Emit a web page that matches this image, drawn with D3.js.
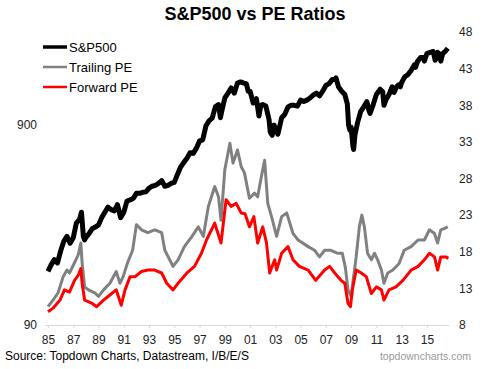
<!DOCTYPE html>
<html>
<head>
<meta charset="utf-8">
<script src="https://cdn.jsdelivr.net/npm/d3@7"></script>
<style>
  html, body { margin: 0; padding: 0; background: #fff; }
  svg { display: block; font-family: "Liberation Sans", Arial, sans-serif; }
</style>
</head>
<body>
<svg id="chart" width="485" height="369"></svg>
<script>
// ---- Data (decimal years) ----
const spDates = [1985.0,1985.25,1985.5,1985.75,1986.0,1986.25,1986.5,1986.75,1987.0,1987.25,1987.5,1987.65,1987.8,1987.9,1988.0,1988.25,1988.5,1988.75,1989.0,1989.25,1989.5,1989.75,1990.0,1990.25,1990.5,1990.75,1991.0,1991.25,1991.5,1991.75,1992.0,1992.25,1992.5,1992.75,1993.0,1993.25,1993.5,1993.75,1994.0,1994.25,1994.5,1994.75,1995.0,1995.25,1995.5,1995.75,1996.0,1996.25,1996.5,1996.75,1997.0,1997.25,1997.5,1997.75,1998.0,1998.25,1998.5,1998.65,1998.75,1999.0,1999.25,1999.5,1999.75,2000.0,2000.25,2000.5,2000.7,2000.85,2001.0,2001.25,2001.5,2001.7,2001.85,2002.0,2002.25,2002.5,2002.6,2002.75,2002.9,2003.0,2003.2,2003.5,2003.75,2004.0,2004.25,2004.5,2004.75,2005.0,2005.25,2005.5,2005.75,2006.0,2006.25,2006.5,2006.75,2007.0,2007.25,2007.5,2007.75,2007.8,2008.0,2008.25,2008.5,2008.7,2008.8,2008.9,2009.0,2009.15,2009.2,2009.3,2009.5,2009.75,2010.0,2010.25,2010.4,2010.5,2010.75,2011.0,2011.3,2011.5,2011.6,2011.75,2012.0,2012.25,2012.4,2012.6,2012.75,2012.9,2013.0,2013.25,2013.5,2013.75,2014.0,2014.1,2014.25,2014.5,2014.75,2014.8,2015.0,2015.25,2015.5,2015.65,2015.75,2015.85,2016.0,2016.1,2016.25,2016.5,2016.65];
const spValues = [167,180,191,184,211,236,250,231,246,292,304,330,250,240,247,258,273,278,285,310,330,350,340,335,360,310,330,375,380,387,410,410,415,417,435,445,450,460,475,445,450,460,465,510,555,585,615,655,650,690,750,760,890,945,975,1110,1140,980,1050,1230,1300,1380,1300,1460,1480,1460,1450,1330,1330,1160,1220,1000,1130,1140,1120,960,830,800,900,860,810,980,1020,1110,1130,1130,1120,1200,1180,1200,1230,1270,1300,1260,1330,1420,1450,1520,1520,1550,1400,1330,1280,1150,900,850,880,700,680,800,920,1050,1110,1180,1070,1030,1140,1280,1360,1320,1130,1200,1280,1400,1310,1400,1430,1400,1470,1570,1610,1690,1800,1750,1870,1960,1960,1880,2050,2080,2100,1900,1950,2080,2040,1880,2050,2120,2180];

const trailingDates = [1985.0,1985.4,1985.8,1986.2,1986.5,1986.7,1987.1,1987.4,1987.6,1987.7,1987.9,1988.2,1988.7,1989.0,1989.4,1989.9,1990.4,1990.7,1990.95,1991.3,1991.7,1992.0,1992.4,1992.9,1993.45,1994.0,1994.25,1994.9,1995.3,1995.8,1996.4,1996.9,1997.3,1997.7,1998.2,1998.5,1998.7,1999.0,1999.4,1999.65,2000.0,2000.3,2000.55,2000.95,2001.35,2001.6,2001.9,2002.15,2002.4,2002.7,2003.1,2003.5,2003.9,2004.4,2004.8,2005.6,2006.1,2006.5,2006.9,2007.4,2007.9,2008.3,2008.55,2008.75,2009.0,2009.4,2009.65,2009.85,2010.05,2010.3,2010.6,2010.85,2011.1,2011.4,2011.6,2011.9,2012.3,2012.8,2013.2,2013.75,2014.3,2014.8,2015.2,2015.6,2015.85,2016.1,2016.4,2016.65];
const trailingValues = [10.5,11.4,12.4,14.6,15.5,15.1,16.5,17.6,19.2,16.5,13.2,12.8,12.4,11.9,12.8,13.7,15.3,13.7,14.6,16.5,18.2,21.7,21.0,20.6,21.0,20.6,18.2,16.0,16.9,18.7,20.1,21.4,20.1,24.2,26.9,25.5,22.3,29.2,32.8,30.1,31.9,29.6,28.8,25.3,26.0,25.5,28.3,30.5,24.6,22.8,20.1,22.8,23.3,20.5,19.6,18.7,18.2,17.3,18.2,18.2,17.8,17.8,15.8,12.8,11.9,17.3,21.4,23.0,21.4,17.8,16.9,17.8,16.9,15.5,13.7,15.1,15.5,16.4,18.2,18.7,19.6,19.6,21.0,20.5,19.2,21.0,21.2,21.4];

const forwardDates = [1985.0,1985.4,1985.95,1986.3,1986.7,1987.1,1987.4,1987.6,1987.7,1987.9,1988.45,1988.85,1989.4,1989.9,1990.4,1990.8,1991.1,1991.5,1991.9,1992.4,1992.9,1993.45,1994.0,1994.4,1994.9,1995.3,1996.0,1996.6,1997.15,1997.55,1998.2,1998.7,1999.1,1999.5,1999.9,2000.3,2000.6,2000.95,2001.3,2001.6,2002.0,2002.3,2002.55,2002.95,2003.1,2003.5,2004.0,2004.4,2004.9,2005.6,2006.2,2006.9,2007.3,2007.7,2008.2,2008.5,2008.75,2008.95,2009.1,2009.4,2009.8,2010.2,2010.6,2011.0,2011.4,2011.6,2012.0,2012.55,2013.1,2013.75,2014.3,2014.8,2015.2,2015.6,2015.85,2016.1,2016.5,2016.7];
const forwardValues = [9.8,10.3,11.4,12.8,12.5,14.1,14.8,15.7,13.7,11.4,11.0,10.5,11.4,12.1,12.8,10.7,12.8,14.6,14.6,15.3,15.5,15.5,15.1,13.7,12.8,13.7,15.1,16.0,17.8,19.6,21.9,19.2,25.1,24.2,24.6,23.3,23.2,21.4,22.8,19.2,21.4,19.2,15.1,16.9,15.5,17.8,18.7,16.9,16.0,15.5,14.1,15.5,16.0,15.1,14.1,13.7,11.0,10.5,12.8,15.5,15.1,14.6,12.3,13.2,12.8,11.4,12.8,13.2,14.1,15.5,16.0,16.9,17.8,17.3,15.5,17.3,17.3,17.1];

const xTickYears = [1985,1987,1989,1991,1993,1995,1997,1999,2001,2003,2005,2007,2009,2011,2013,2015];
const leftTicks = [90, 900];
const rightTicks = [8,13,18,23,28,33,38,43,48];
const seriesNames = ["S&P500", "Trailing PE", "Forward PE"];
const seriesColors = ["#000000", "#808080", "#ff0000"];

// ---- Layout ----
const svg = d3.select("#chart");
const x = d3.scaleLinear().domain([1985, 2016.75]).range([48, 449]);
const yL = d3.scaleLog().domain([90, 2630]).range([325, 32]);
const yR = d3.scaleLinear().domain([8, 48]).range([325, 32]);

// Title
svg.append("text").attr("x", 255).attr("y", 20).attr("text-anchor", "middle")
  .attr("font-size", 18).attr("font-weight", "bold").attr("fill", "#000")
  .text("S&P500 vs PE Ratios");

// X axis
const xAxis = d3.axisBottom(x).tickValues(xTickYears)
  .tickFormat(d => String(d % 100).padStart(2, "0"))
  .tickSize(3).tickSizeOuter(0).tickPadding(7);
const gx = svg.append("g").attr("transform", "translate(0,325)").call(xAxis);
gx.select(".domain").attr("stroke", "#d9d9d9").attr("d", "M45,0.5H449");
gx.selectAll(".tick line").attr("stroke", "#d9d9d9");
gx.selectAll("text").attr("font-size", 12).attr("fill", "#222").attr("font-family", "Liberation Sans, Arial, sans-serif");

// Left axis (log)
const yAxisL = d3.axisLeft(yL).tickValues(leftTicks).tickFormat(d3.format("d")).tickSize(0).tickPadding(8);
const gl = svg.append("g").attr("transform", "translate(45,0)").call(yAxisL);
gl.select(".domain").remove();
gl.selectAll("text").attr("font-size", 12).attr("fill", "#222").attr("font-family", "Liberation Sans, Arial, sans-serif");

// Right axis
const yAxisR = d3.axisRight(yR).tickValues(rightTicks).tickSize(0).tickPadding(8);
const gr = svg.append("g").attr("transform", "translate(451,0)").call(yAxisR);
gr.select(".domain").remove();
gr.selectAll("text").attr("font-size", 12).attr("fill", "#222").attr("font-family", "Liberation Sans, Arial, sans-serif");

// Lines
const lineR = d3.line().x(d => x(d[0])).y(d => yR(d[1]));
const lineL = d3.line().x(d => x(d[0])).y(d => yL(d[1]));
const trailing = trailingDates.map((d, i) => [d, trailingValues[i]]);
const forward = forwardDates.map((d, i) => [d, forwardValues[i]]);
const sp = spDates.map((d, i) => [d, spValues[i]]);

svg.append("path").datum(trailing).attr("d", lineR).attr("fill", "none")
  .attr("stroke", seriesColors[1]).attr("stroke-width", 3).attr("stroke-linejoin", "round");
svg.append("path").datum(forward).attr("d", lineR).attr("fill", "none")
  .attr("stroke", seriesColors[2]).attr("stroke-width", 3).attr("stroke-linejoin", "round");
svg.append("path").datum(sp).attr("d", lineL).attr("fill", "none")
  .attr("stroke", seriesColors[0]).attr("stroke-width", 5).attr("stroke-linejoin", "round");

// Legend
const legendY = [47, 67, 87];
const legendW = [3.5, 2.5, 2.5];
seriesNames.forEach((name, i) => {
  svg.append("line").attr("x1", 43).attr("x2", 67).attr("y1", legendY[i]).attr("y2", legendY[i])
    .attr("stroke", seriesColors[i]).attr("stroke-width", legendW[i]);
  svg.append("text").attr("x", 69).attr("y", legendY[i] + 4.5).attr("font-size", 13)
    .attr("fill", "#000").text(name);
});

// Footer
svg.append("text").attr("x", 5).attr("y", 360).attr("font-size", 12).attr("fill", "#000")
  .text("Source: Topdown Charts, Datastream, I/B/E/S");
svg.append("text").attr("x", 471).attr("y", 360).attr("text-anchor", "end").attr("font-size", 10.5)
  .attr("fill", "#999").text("topdowncharts.com");
</script>
</body>
</html>
